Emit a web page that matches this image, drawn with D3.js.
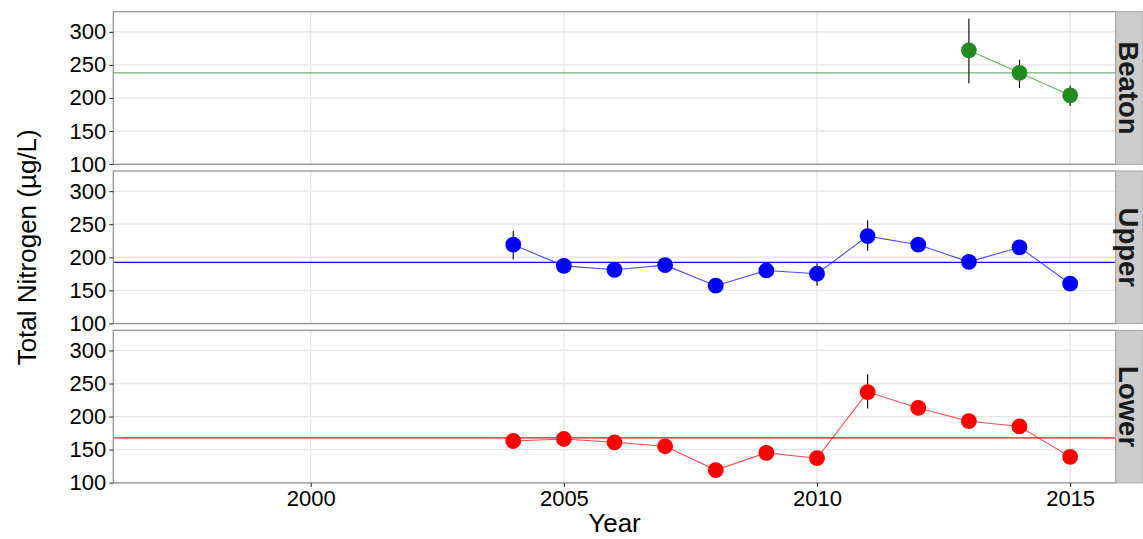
<!DOCTYPE html>
<html>
<head>
<meta charset="utf-8">
<script src="https://cdn.jsdelivr.net/npm/d3@7"></script>
<style>
  html, body { margin: 0; padding: 0; background: #ffffff; }
  svg { display: block; font-family: "Liberation Sans", Arial, sans-serif; }
</style>
</head>
<body>
<svg id="chart" width="1143" height="539"></svg>
<script>
// Annual mean total nitrogen (µg/L) by lake basin, with error bars where available
const years       = [2004, 2005, 2006, 2007, 2008, 2009, 2010, 2011, 2012, 2013, 2014, 2015];
const beatonYears = [2013, 2014, 2015];

const beatonTN = [272, 238, 204];
const beatonLo = [222, 215, 188];
const beatonHi = [320, 258, 219];

const upperTN = [219, 187, 181, 188, 157, 180, 175, 232, 219, 193, 215, 160];
const upperLo = [197, null, null, null, null, null, 157, 210, null, null, null, null];
const upperHi = [240, null, null, null, null, null, 191, 256, null, null, null, null];

const lowerTN = [163, 166, 161, 155, 119, 145, 137, 237, 213, 193, 185, 139];
const lowerLo = [null, null, null, null, null, null, null, 212, null, null, null, null];
const lowerHi = [null, null, null, null, null, null, null, 264, null, null, null, null];

const panelNames  = ["Beaton", "Upper", "Lower"];
const panelColors = ["#228B22", "#0000FF", "#FF0000"];
const yTicks = [100, 150, 200, 250, 300];
const xTicks = [2000, 2005, 2010, 2015];

function rows(xs, v, lo, hi) {
  return xs.map((x, i) => ({ year: x, tn: v[i], lo: lo[i], hi: hi[i] }));
}
const panels = [
  rows(beatonYears, beatonTN, beatonLo, beatonHi),
  rows(years, upperTN, upperLo, upperHi),
  rows(years, lowerTN, lowerLo, lowerHi)
];

const svg = d3.select("#chart");

const left = 113.3, right = 1115.7, stripW = 27.3;
const top0 = 11.7, panelH = 152.6, step = 159.3;

const x = d3.scaleLinear().domain([1996.1, 2015.9]).range([left, right]);

const gridColor = "#e6e6e6";
const borderColor = "#8c8c8c";

panels.forEach((data, p) => {
  const py = top0 + p * step;
  const y = d3.scaleLinear().domain([99.6, 330.5]).range([py + panelH, py]);
  const col = panelColors[p];
  const g = svg.append("g");

  // panel background and grid
  g.append("rect").attr("x", left).attr("y", py).attr("width", right - left).attr("height", panelH)
    .attr("fill", "#ffffff");
  g.selectAll("line.hgrid").data(yTicks).join("line").attr("class", "hgrid")
    .attr("x1", left).attr("x2", right).attr("y1", d => y(d)).attr("y2", d => y(d))
    .attr("stroke", gridColor).attr("stroke-width", 1.3);
  g.selectAll("line.vgrid").data(xTicks).join("line").attr("class", "vgrid")
    .attr("x1", d => x(d)).attr("x2", d => x(d)).attr("y1", py).attr("y2", py + panelH)
    .attr("stroke", gridColor).attr("stroke-width", 1.3);

  // long-term mean reference line
  const m = d3.mean(data, d => d.tn);
  g.append("line").attr("x1", left).attr("x2", right).attr("y1", y(m)).attr("y2", y(m))
    .attr("stroke", col).attr("stroke-width", 1.2).attr("stroke-opacity", p === 0 ? 0.65 : 0.95);

  // connecting line
  g.append("path").datum(data)
    .attr("d", d3.line().x(d => x(d.year)).y(d => y(d.tn)))
    .attr("fill", "none").attr("stroke", col).attr("stroke-width", 1.1).attr("stroke-opacity", 0.7);

  // error bars
  g.selectAll("line.err").data(data.filter(d => d.lo != null)).join("line").attr("class", "err")
    .attr("x1", d => x(d.year)).attr("x2", d => x(d.year))
    .attr("y1", d => y(d.lo)).attr("y2", d => y(d.hi))
    .attr("stroke", "#000000").attr("stroke-width", 1.1);

  // points
  g.selectAll("circle").data(data).join("circle")
    .attr("cx", d => x(d.year)).attr("cy", d => y(d.tn)).attr("r", 7.9)
    .attr("fill", col);

  // panel border
  g.append("rect").attr("x", left).attr("y", py).attr("width", right - left).attr("height", panelH)
    .attr("fill", "none").attr("stroke", borderColor).attr("stroke-width", 1.2);

  // y axis
  const ya = g.append("g").attr("transform", `translate(${left},0)`)
    .call(d3.axisLeft(y).tickValues(yTicks).tickSize(4).tickPadding(3));
  ya.select(".domain").remove();
  ya.selectAll(".tick line").attr("stroke", "#333333").attr("stroke-width", 1.1);
  ya.selectAll(".tick text").attr("font-size", 22).attr("fill", "#000000")
    .attr("font-family", "'Liberation Sans', Arial, sans-serif");

  // facet strip
  g.append("rect").attr("x", right).attr("y", py).attr("width", stripW).attr("height", panelH)
    .attr("fill", "#cccccc").attr("stroke", "#a6a6a6").attr("stroke-width", 1);
  g.append("text")
    .attr("transform", `translate(${right + stripW / 2},${py + panelH / 2}) rotate(90)`)
    .attr("text-anchor", "middle").attr("dy", "0.36em")
    .attr("font-size", 27.5).attr("font-weight", "bold").attr("fill", "#1a1a1a")
    .text(panelNames[p]);

  // x axis on the bottom panel only
  if (p === panels.length - 1) {
    const xa = g.append("g").attr("transform", `translate(0,${py + panelH})`)
      .call(d3.axisBottom(x).tickValues(xTicks).tickFormat(d3.format("d")).tickSize(4).tickPadding(3));
    xa.select(".domain").remove();
    xa.selectAll(".tick line").attr("stroke", "#333333").attr("stroke-width", 1.1);
    xa.selectAll(".tick text").attr("font-size", 22).attr("fill", "#000000")
      .attr("font-family", "'Liberation Sans', Arial, sans-serif");
  }
});

// axis titles
svg.append("text")
  .attr("x", (left + right) / 2).attr("y", 532)
  .attr("text-anchor", "middle").attr("font-size", 26).attr("fill", "#000000")
  .text("Year");
svg.append("text")
  .attr("transform", `translate(36,${top0 + (2 * step + panelH) / 2}) rotate(-90)`)
  .attr("text-anchor", "middle").attr("font-size", 26).attr("fill", "#000000")
  .text("Total Nitrogen (µg/L)");
</script>
</body>
</html>
